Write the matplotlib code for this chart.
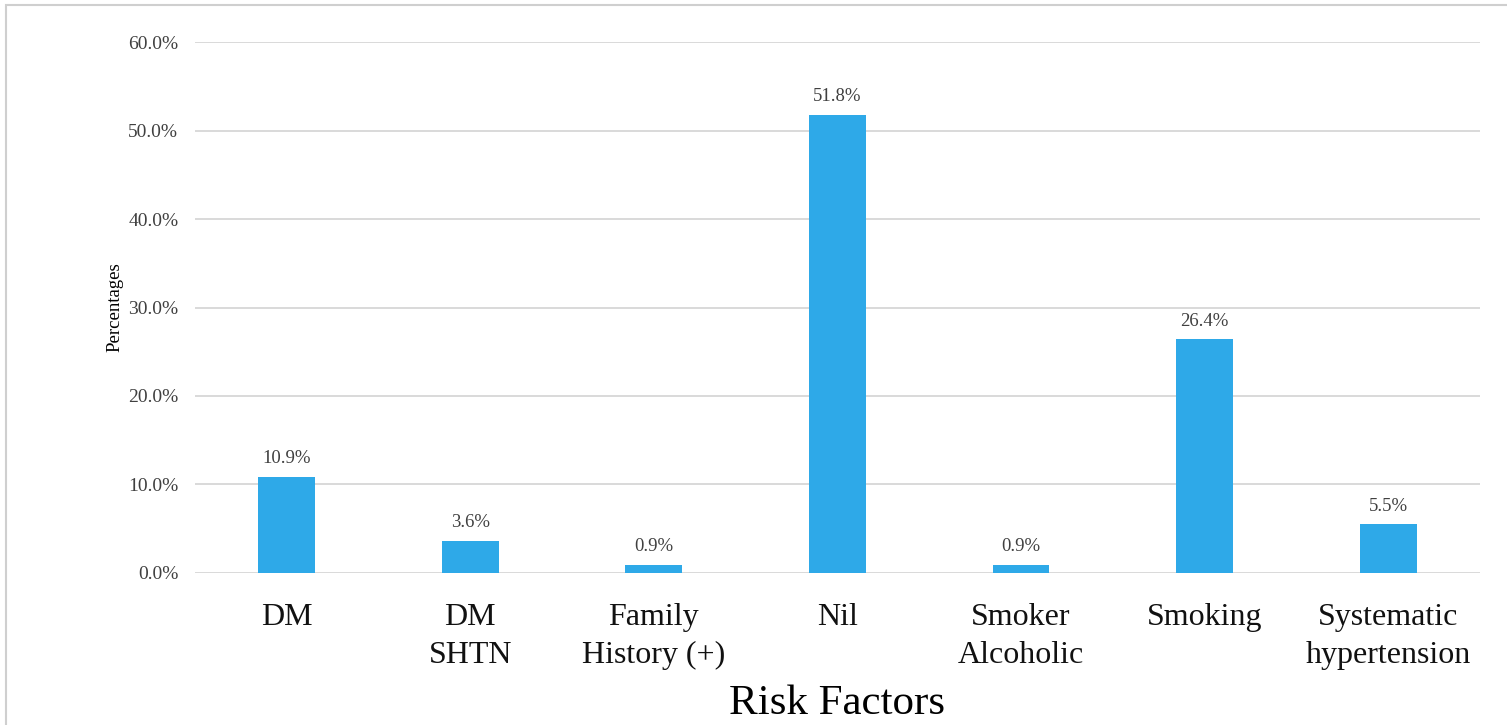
import matplotlib.pyplot as plt
from matplotlib.patches import Rectangle
from matplotlib.ticker import PercentFormatter

# risk factor shares (percent of patients)
categories = ["DM", "DM\nSHTN", "Family\nHistory (+)", "Nil",
              "Smoker\nAlcoholic", "Smoking", "Systematic\nhypertension"]
percentages = [10.9, 3.6, 0.9, 51.8, 0.9, 26.4, 5.5]
y_ticks = [0, 10, 20, 30, 40, 50, 60]

plt.rcParams['font.family'] = ['Liberation Serif', 'DejaVu Serif']

fig = plt.figure(figsize=(15.07, 7.25), dpi=100)
ax = fig.add_axes([0.1294, 0.2097, 0.8526, 0.7323])

# thin grey frame around the whole chart
fig.patches.append(Rectangle((6 / 1507, -0.01), 1.02, 1 - 5 / 725 + 0.01,
                             transform=fig.transFigure, fill=False,
                             edgecolor='#cfcfcf', linewidth=1.5))

x = range(len(categories))
bars = ax.bar(x, percentages, width=0.31, color='#2EA9E8', zorder=3)

for rect, val in zip(bars, percentages):
    ax.annotate(f"{val:.1f}%", (rect.get_x() + rect.get_width() / 2, val),
                xytext=(0, 7), textcoords='offset points',
                ha='center', va='bottom', fontsize=13.5, color='#404040')

ax.set_xlim(-0.5, len(categories) - 0.5)
ax.set_ylim(0, 60)
ax.set_yticks(y_ticks)
ax.yaxis.set_major_formatter(PercentFormatter(decimals=1))
ax.grid(axis='y', color='#d9d9d9', linewidth=1.4, zorder=0)

ax.set_xticks(list(x))
ax.set_xticklabels(categories, fontsize=23, color='#111111', linespacing=1.4)
ax.tick_params(axis='x', length=0, pad=21.5)
ax.tick_params(axis='y', length=0, pad=12, labelsize=14, labelcolor='#404040')

for side in ['top', 'right', 'left', 'bottom']:
    ax.spines[side].set_visible(False)

ax.set_ylabel("Percentages", fontsize=13.5, labelpad=3)
ax.set_xlabel("Risk Factors", fontsize=31, labelpad=10.5)

fig.savefig("out.png", dpi=100)
